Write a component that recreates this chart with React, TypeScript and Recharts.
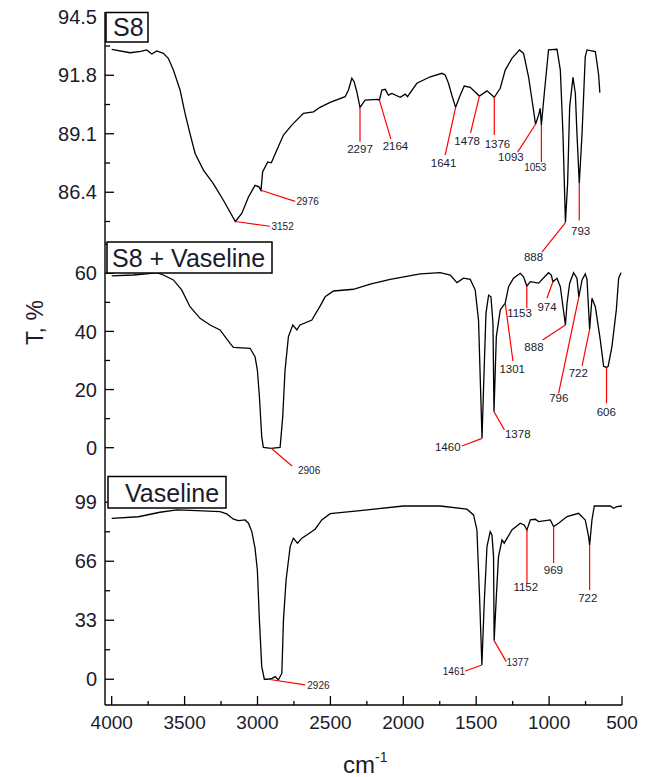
import React from 'react';
import { LineChart, Line, XAxis, YAxis, ReferenceLine, ReferenceDot } from 'recharts';

// ---------- shared x axis (wavenumber, cm-1) ----------
const X_DOMAIN: [number, number] = [500, 4046];
const xMajorTicks = [4000, 3500, 3000, 2500, 2000, 1500, 1000, 500];
const xMinorTicks = [3750, 3250, 2750, 2250, 1750, 1250, 750];

// ---------- panel 1: S8 ----------
const s8Wn = [4000, 3874, 3800, 3760, 3725, 3691, 3646, 3612, 3577, 3531, 3497, 3463, 3428, 3371, 3303, 3234, 3152, 3108, 3062, 3017, 2990, 2976, 2965, 2930, 2905, 2868, 2822, 2765, 2685, 2616, 2571, 2502, 2399, 2376, 2353, 2337, 2319, 2297, 2262, 2181, 2164, 2147, 2124, 2102, 2078, 2021, 1987, 1971, 1907, 1815, 1735, 1713, 1690, 1667, 1641, 1614, 1582, 1541, 1478, 1426, 1376, 1335, 1301, 1255, 1203, 1175, 1141, 1107, 1093, 1072, 1061, 1053, 1033, 1004, 946, 923, 905, 888, 873, 859, 836, 820, 809, 793, 774, 752, 740, 683, 671, 660, 652];
const s8T = [93.0, 92.84, 92.9, 92.97, 92.78, 92.92, 92.81, 92.58, 92.04, 91.12, 90.04, 89.11, 88.19, 87.42, 86.8, 86.03, 85.05, 85.42, 86.18, 86.72, 86.65, 86.49, 87.34, 87.8, 87.76, 88.34, 89.04, 89.5, 90.04, 90.11, 90.32, 90.55, 90.81, 91.12, 91.66, 91.5, 91.04, 90.32, 90.65, 90.69, 90.65, 91.12, 91.15, 90.88, 90.96, 90.78, 90.93, 90.81, 91.43, 91.73, 91.89, 91.81, 91.43, 90.88, 90.32, 90.81, 91.3, 91.24, 90.84, 91.08, 90.78, 91.2, 92.04, 92.58, 92.97, 92.81, 91.73, 90.19, 89.54, 89.96, 90.27, 89.5, 90.96, 92.97, 93.0, 92.04, 89.11, 85.0, 86.82, 90.34, 91.7, 90.96, 89.13, 86.8, 89.11, 92.66, 92.97, 92.89, 92.35, 91.8, 91.0];
const s8MajorTicks = [86.4, 89.1, 91.8, 94.5];
const s8MinorTicks = [85.05, 87.75, 90.45, 93.15];
const s8Domain: [number, number] = [84.15, 94.72];
// [peak wn, peak T, line end wn, line end T, label wn, label T]
const s8Peaks = [
  [3152, 85.05, 2914, 84.83, 2828, 84.83],
  [2976, 86.49, 2742, 85.98, 2656, 85.98],
  [2297, 90.32, 2297, 88.73, 2297, 88.41],
  [2164, 90.65, 2085, 88.85, 2054, 88.53],
  [1641, 90.32, 1713, 88.11, 1724, 87.74],
  [1478, 90.84, 1539, 89.13, 1562, 88.77],
  [1376, 90.78, 1376, 89.04, 1354, 88.62],
  [1093, 89.54, 1216, 88.25, 1262, 88.03],
  [1053, 89.5, 1053, 87.79, 1095, 87.57],
  [888, 85.0, 1049, 83.64, 1107, 83.44],
  [793, 86.8, 793, 85.1, 784, 84.64],
];

// ---------- panel 2: S8 + Vaseline ----------
const mixWn = [4000, 3852, 3760, 3691, 3646, 3577, 3520, 3463, 3394, 3325, 3257, 3188, 3165, 3051, 3017, 3001, 2987, 2971, 2960, 2906, 2845, 2827, 2811, 2788, 2758, 2730, 2708, 2627, 2570, 2536, 2479, 2342, 2227, 2090, 1884, 1747, 1678, 1632, 1587, 1541, 1507, 1484, 1472, 1460, 1450, 1433, 1415, 1399, 1385, 1378, 1362, 1335, 1301, 1278, 1244, 1198, 1175, 1153, 1129, 1072, 1004, 985, 974, 946, 923, 888, 877, 859, 832, 809, 796, 774, 752, 740, 722, 706, 683, 649, 626, 606, 595, 569, 539, 523, 507];
const mixT = [59.1, 59.4, 59.8, 60.2, 59.4, 57.7, 54.3, 48.5, 44.5, 42.2, 40.5, 35.9, 34.5, 34.2, 31.3, 26.7, 17.6, 3.8, 0.1, -0.2, 0.1, 10.7, 26.7, 38.2, 42.2, 40.5, 42.2, 43.9, 48.8, 51.9, 53.9, 54.5, 56.3, 57.9, 59.8, 60.2, 59.4, 56.8, 58.3, 57.9, 54.3, 43.9, 23.3, 3.2, 19.9, 46.2, 52.5, 51.9, 42.8, 12.4, 38.2, 47.4, 49.7, 55.4, 58.3, 60.0, 58.8, 55.6, 57.1, 56.6, 60.2, 59.4, 57.1, 58.3, 55.4, 42.2, 49.7, 56.6, 60.2, 58.3, 51.9, 57.7, 59.8, 57.9, 40.7, 51.4, 48.5, 37.1, 28.0, 27.6, 28.0, 34.8, 47.4, 58.3, 60.2];
const mixMajorTicks = [0, 20, 40, 60];
const mixMinorTicks = [10, 30, 50, 70];
const mixDomain: [number, number] = [-9.05, 71.1];
const mixPeaks = [
  [2906, -0.2, 2763, -6.29, 2646, -7.66],
  [1460, 3.2, 1598, 0.59, 1695, 0.35],
  [1378, 12.4, 1306, 6.1, 1215, 4.72],
  [1301, 49.7, 1248, 29.83, 1253, 26.98],
  [1153, 55.6, 1153, 47.96, 1203, 46.45],
  [974, 57.1, 1015, 51.4, 1014, 48.3],
  [888, 42.2, 1045, 37.06, 1104, 34.75],
  [796, 51.9, 935, 18.72, 934, 17.1],
  [722, 40.7, 774, 28.1, 800, 25.8],
  [606, 27.6, 606, 15.28, 608, 12.4],
];

// ---------- panel 3: Vaseline ----------
const vasWn = [4000, 3817, 3669, 3554, 3417, 3257, 3211, 3165, 3131, 3085, 3062, 3039, 3017, 3001, 2987, 2971, 2953, 2926, 2900, 2879, 2857, 2833, 2822, 2804, 2776, 2754, 2726, 2696, 2662, 2605, 2559, 2502, 2296, 1999, 1747, 1564, 1518, 1495, 1477, 1461, 1445, 1426, 1404, 1392, 1381, 1377, 1362, 1347, 1323, 1308, 1255, 1198, 1171, 1152, 1129, 1095, 1072, 992, 969, 935, 877, 798, 752, 729, 722, 706, 690, 580, 558, 534, 500];
const vasT = [90.0, 90.9, 93.4, 94.7, 94.3, 93.7, 92.5, 89.5, 88.7, 89.1, 87.3, 82.6, 73.3, 61.1, 33.2, 7.1, 0.0, 0.0, 0.5, 1.5, -0.4, 3.4, 33.2, 55.5, 74.2, 78.9, 76.1, 78.9, 80.7, 83.9, 89.1, 92.6, 94.3, 96.9, 96.9, 95.1, 91.9, 83.5, 46.2, 8.0, 42.5, 74.2, 82.6, 80.7, 68.6, 21.6, 46.2, 68.6, 77.9, 76.1, 83.5, 87.3, 86.3, 83.5, 89.1, 89.5, 88.2, 89.1, 85.4, 87.3, 91.0, 92.8, 89.1, 79.8, 75.1, 89.1, 96.9, 96.9, 95.6, 96.5, 96.9];
const vasMajorTicks = [0, 33, 66, 99];
const vasMinorTicks = [16.5, 49.5, 82.5];
const vasDomain: [number, number] = [-14.4, 114.8];
const vasPeaks = [
  [2926, 0.0, 2673, -3.18, 2582, -3.18],
  [1461, 8.0, 1575, 4.6, 1653, 4.2],
  [1377, 21.6, 1294, 9.85, 1216, 9.3],
  [1152, 83.5, 1152, 53.6, 1160, 51.5],
  [969, 85.4, 969, 65.05, 971, 61.1],
  [722, 75.1, 722, 49.95, 735, 45.3],
];

const panelTitles = ['S8', 'S8 + Vaseline', 'Vaseline'];
const yTitle = 'T, %';
const xTitle = 'cm';
const xTitleSup = '-1';

// ---------- styles ----------
const FONT = '"Liberation Sans", Arial, Helvetica, sans-serif';
const TEXT = '#1b1b2b';
const SMALL_LABELS = new Set(['3152', '2976', '1053', '2906', '2926', '1461', '1377']);
const W = 650;
const PLOT_LEFT = 105;
const PLOT_RIGHT = 622;
const Y_AXIS_W = 60;
const Y_MARGIN = 8;
const X_MARGIN = 10;

const toData = (wn: number[], t: number[]) => wn.map((x, i) => ({ x, y: t[i] }));

const makeYTick = (majors: number[], decimals: number) => (props: any) => {
  const { x, y, payload } = props;
  const v = Number(payload.value);
  const isMajor = majors.some((m) => Math.abs(m - v) < 1e-6);
  const ax = x + Y_MARGIN;
  return (
    <g>
      <line x1={ax} x2={ax + (isMajor ? 9 : 5)} y1={y} y2={y} stroke="#000" strokeWidth={1.3} />
      {isMajor && (
        <text x={x} y={y} dy="0.36em" textAnchor="end" fontFamily={FONT} fontSize={20} fill={TEXT}>
          {v.toFixed(decimals)}
        </text>
      )}
    </g>
  );
};

const XTick = (props: any) => {
  const { x, y, payload } = props;
  const v = Number(payload.value);
  const isMajor = xMajorTicks.includes(v);
  const ay = y - X_MARGIN;
  return (
    <g>
      <line x1={x} x2={x} y1={ay} y2={ay - (isMajor ? 9 : 4)} stroke="#000" strokeWidth={1.3} />
      {isMajor && (
        <text x={x} y={y} dy="0.72em" textAnchor="middle" fontFamily={FONT} fontSize={19} fill={TEXT}>
          {v}
        </text>
      )}
    </g>
  );
};

const renderPeaks = (peaks: number[][], key: string) =>
  peaks.flatMap((p, i) => {
    const [pw, pt, ew, et, lw, lt] = p;
    const label = String(pw);
    const small = SMALL_LABELS.has(label);
    return [
      <ReferenceLine
        key={`${key}-l-${i}`}
        segment={[{ x: pw, y: pt }, { x: ew, y: et }]}
        stroke="#ff0000"
        strokeWidth={1.2}
        ifOverflow="visible"
      />,
      <ReferenceDot
        key={`${key}-t-${i}`}
        x={lw}
        y={lt}
        r={0}
        ifOverflow="visible"
        shape={(sp: any) => (
          <text
            x={sp.cx}
            y={sp.cy}
            dy="0.36em"
            textAnchor="middle"
            fontFamily={FONT}
            fontSize={small ? 10 : 11.5}
            fill={TEXT}
          >
            {label}
          </text>
        )}
      />,
    ];
  });

interface PanelProps {
  top: number;
  height: number;
  data: { x: number; y: number }[];
  domain: [number, number];
  majors: number[];
  minors: number[];
  decimals: number;
  peaks: number[][];
  name: string;
  showX?: boolean;
  xAxisHeight?: number;
}

const Panel = ({ top, height, data, domain, majors, minors, decimals, peaks, name, showX, xAxisHeight = 0 }: PanelProps) => {
  const ticks = [...majors, ...minors].filter((t) => t >= domain[0] && t <= domain[1]).sort((a, b) => a - b);
  return (
    <div style={{ position: 'absolute', left: 0, top, width: W, height: height + xAxisHeight }}>
      <LineChart
        width={W}
        height={height + xAxisHeight}
        data={data}
        margin={{ top: 0, right: W - PLOT_RIGHT, bottom: 0, left: PLOT_LEFT - Y_AXIS_W }}
      >
        <XAxis
          dataKey="x"
          type="number"
          domain={X_DOMAIN}
          reversed
          allowDataOverflow
          hide={!showX}
          height={xAxisHeight}
          ticks={[...xMajorTicks, ...xMinorTicks]}
          interval={0}
          tickSize={0}
          tickMargin={X_MARGIN}
          tickLine={false}
          tick={<XTick />}
          axisLine={{ stroke: '#000', strokeWidth: 1.4 }}
        />
        <YAxis
          type="number"
          domain={domain}
          allowDataOverflow
          width={Y_AXIS_W}
          ticks={ticks}
          interval={0}
          tickSize={0}
          tickMargin={Y_MARGIN}
          tickLine={false}
          tick={makeYTick(majors, decimals)}
          axisLine={{ stroke: '#000', strokeWidth: 1.4 }}
        />
        <Line
          dataKey="y"
          name={name}
          type="linear"
          stroke="#000"
          strokeWidth={1.3}
          dot={false}
          isAnimationActive={false}
        />
        {renderPeaks(peaks, name)}
      </LineChart>
    </div>
  );
};

export default function App() {
  return (
    <div style={{ position: 'absolute', left: 0, top: 0, width: W, height: 777, background: '#fff', overflow: 'hidden' }}>
      <style>{`.recharts-surface{overflow:visible}`}</style>
      <Panel
        top={12}
        height={229}
        data={toData(s8Wn, s8T)}
        domain={s8Domain}
        majors={s8MajorTicks}
        minors={s8MinorTicks}
        decimals={1}
        peaks={s8Peaks}
        name="S8"
      />
      <Panel
        top={241}
        height={233}
        data={toData(mixWn, mixT)}
        domain={mixDomain}
        majors={mixMajorTicks}
        minors={mixMinorTicks}
        decimals={0}
        peaks={mixPeaks}
        name="S8 + Vaseline"
      />
      <Panel
        top={474}
        height={231}
        data={toData(vasWn, vasT)}
        domain={vasDomain}
        majors={vasMajorTicks}
        minors={vasMinorTicks}
        decimals={0}
        peaks={vasPeaks}
        name="Vaseline"
        showX
        xAxisHeight={72}
      />
      <svg width={W} height={777} style={{ position: 'absolute', left: 0, top: 0, pointerEvents: 'none' }}>
        <g fontFamily={FONT} fill={TEXT}>
          <rect x={106} y={12.5} width={42} height={29.5} fill="#fff" stroke="#000" strokeWidth={1.5} />
          <text x={113} y={36} fontSize={25}>{panelTitles[0]}</text>
          <rect x={107} y={242} width={165} height={31} fill="#fff" stroke="#000" strokeWidth={1.5} />
          <text x={112} y={266.5} fontSize={25}>{panelTitles[1]}</text>
          <rect x={108} y={476.5} width={118} height={31.5} fill="#fff" stroke="#000" strokeWidth={1.5} />
          <text x={125} y={502} fontSize={25}>{panelTitles[2]}</text>
          <text x={43} y={322.5} fontSize={23} textAnchor="middle" transform="rotate(-90 43 322.5)">
            {yTitle}
          </text>
          <text x={343} y={773} fontSize={24}>
            {xTitle}
            <tspan dy={-11} fontSize={14}>{xTitleSup}</tspan>
          </text>
        </g>
      </svg>
    </div>
  );
}
